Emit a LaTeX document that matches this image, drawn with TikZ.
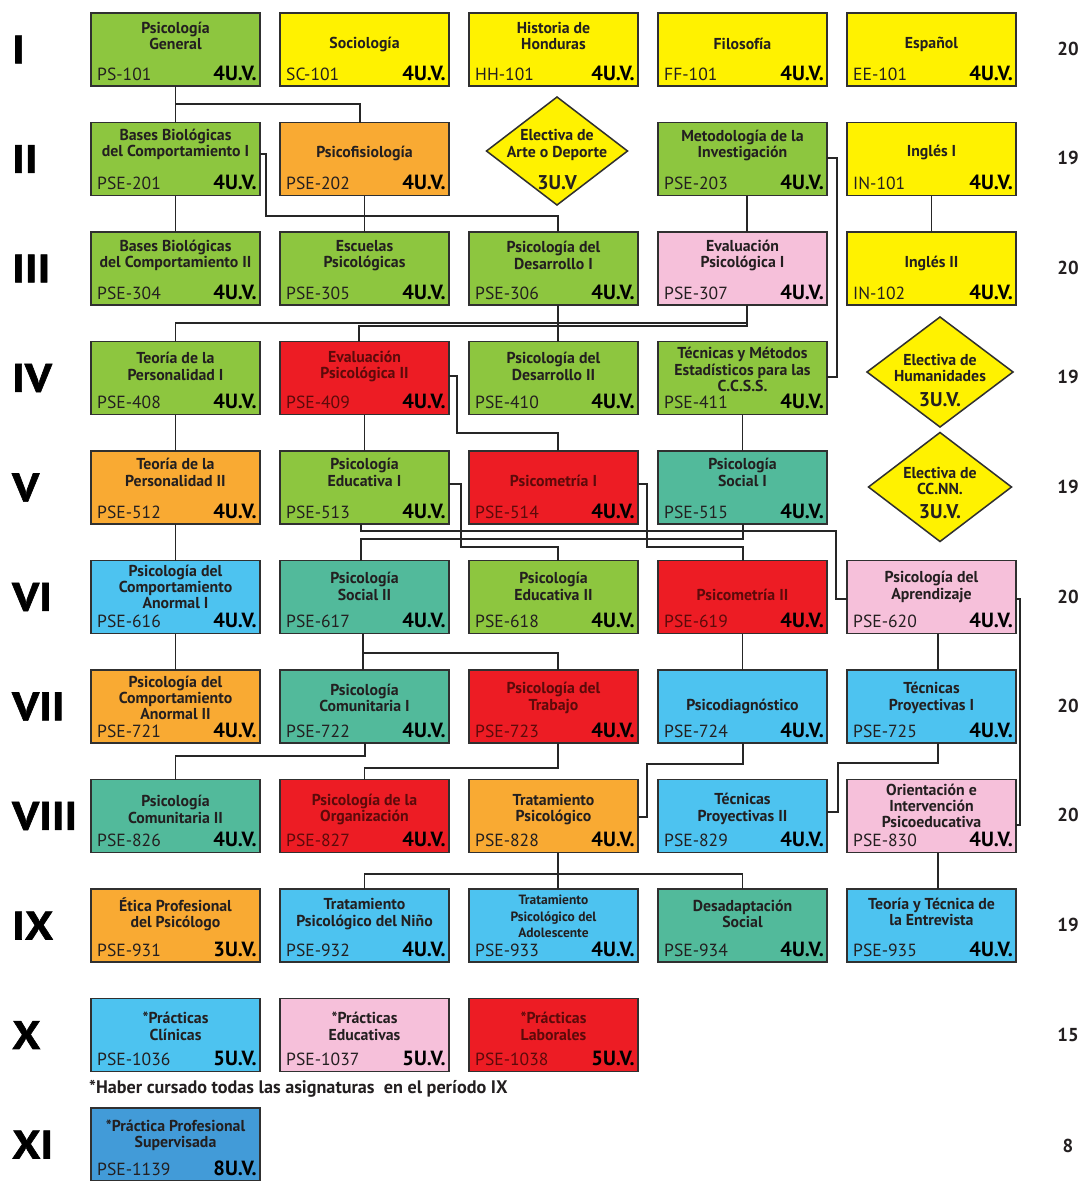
\documentclass[tikz,border=0pt]{standalone}
\usepackage{fontspec}
\setmainfont{PT Sans}
\newfontfamily\romfont{PT Sans Bold}[FakeStretch=1.12,FakeBold=1.5]
\usetikzlibrary{shapes.geometric}
\definecolor{cgreen}{HTML}{8DC63F}
\definecolor{cyellow}{HTML}{FFF200}
\definecolor{corange}{HTML}{F9AA33}
\definecolor{cred}{HTML}{ED1C24}
\definecolor{cpink}{HTML}{F6C0DA}
\definecolor{cblue}{HTML}{4DC3F0}
\definecolor{cteal}{HTML}{52BA9B}
\definecolor{cdblue}{HTML}{429BD8}
\definecolor{cborder}{HTML}{303030}
\definecolor{cline}{HTML}{262626}
\definecolor{ctext}{HTML}{231F20}
\definecolor{credtext}{HTML}{5C0A0A}
\tikzset{
  box/.style={draw=cborder, line width=1.3pt, minimum width=169*0.3mm, minimum height=73*0.3mm, inner sep=0pt, outer sep=0pt},
  ttl/.style={font=\bfseries\fontsize{13.5}{14}\selectfont, align=center, inner sep=0pt},
  codetxt/.style={font=\fontsize{15}{16}\selectfont, inner sep=0pt},
  uvtxt/.style={font=\bfseries\fontsize{17.5}{18}\selectfont, inner sep=0pt, text=black},
  conn/.style={draw=cline, line width=1.4pt},
  thinconn/.style={draw=cline, line width=0.8pt},
  dia/.style={diamond, draw=cborder, line width=1.3pt, fill=cyellow, inner sep=0pt, outer sep=0pt},
  diatxt/.style={font=\bfseries\fontsize{13.5}{14.2}\selectfont, align=center, inner sep=0pt, text=ctext},
  diauv/.style={font=\bfseries\fontsize{17}{18}\selectfont, inner sep=0pt, text=ctext},
  roman/.style={font=\romfont\fontsize{34}{34}\selectfont, anchor=west, inner sep=0pt, text=black},
  cred/.style={font=\bfseries\fontsize{16}{16}\selectfont, inner sep=0pt, text=ctext},
}
% #1 name, #2 left, #3 top, #4 fill, #5 text colour, #6 title, #7 code, #8 uv, #9 title offset
\newcommand\curso[9]{%
  \node[box, fill=#4] (#1) at (#2+84.5,#3+36.5) {};
  \node[ttl, text=#5] (#1t) at (#2+84.5,#3+#9) {#6};
  \node[codetxt, text=#5, anchor=base west] (#1c) at (#2+6,#3+67) {#7};
  \node[uvtxt, anchor=base east] (#1u) at (#2+166,#3+67) {#8};
}
\begin{document}
\begin{tikzpicture}[x=0.3mm,y=-0.3mm]
\path[use as bounding box, fill=white] (0,0) rectangle (1082,1181);

% Row I
\curso{n101}{91}{13}{cgreen}{ctext}{Psicología\\General}{PS-101}{4U.V.}{23}
\curso{nSC}{280}{13}{cyellow}{ctext}{Sociología}{SC-101}{4U.V.}{31}
\curso{nHH}{469}{13}{cyellow}{ctext}{Historia de\\Honduras}{HH-101}{4U.V.}{23}
\curso{nFF}{658}{13}{cyellow}{ctext}{Filosofía}{FF-101}{4U.V.}{31}
\curso{nEE}{847}{13}{cyellow}{ctext}{Español}{EE-101}{4U.V.}{31}
% Row II
\curso{n201}{91}{122.5}{cgreen}{ctext}{Bases Biológicas\\del Comportamiento I}{PSE-201}{4U.V.}{22}
\curso{n202}{280}{122.5}{corange}{ctext}{Psicofisiología}{PSE-202}{4U.V.}{30.5}
\curso{n203}{658}{122.5}{cgreen}{ctext}{Metodología de la\\Investigación}{PSE-203}{4U.V.}{23}
\curso{nIN1}{847}{122.5}{cyellow}{ctext}{Inglés I}{IN-101}{4U.V.}{30}
\node[dia, minimum width=141*0.3mm, minimum height=108*0.3mm] (dArte) at (557,151) {};
\node[diatxt] (dArtet) at (557,145) {Electiva de\\Arte o Deporte};
\node[diauv] (dArteu) at (557,183) {3U.V};
% Row III
\curso{n304}{91}{232}{cgreen}{ctext}{Bases Biológicas\\del Comportamiento II}{PSE-304}{4U.V.}{23.5}
\curso{n305}{280}{232}{cgreen}{ctext}{Escuelas\\Psicológicas}{PSE-305}{4U.V.}{23.5}
\curso{n306}{469}{232}{cgreen}{ctext}{Psicología del\\Desarrollo I}{PSE-306}{4U.V.}{23.5}
\curso{n307}{658}{232}{cpink}{ctext}{Evaluación\\Psicológica I}{PSE-307}{4U.V.}{23.5}
\curso{nIN2}{847}{232}{cyellow}{ctext}{Inglés II}{IN-102}{4U.V.}{31}
% Row IV
\curso{n408}{91}{341.5}{cgreen}{ctext}{Teoría de la\\Personalidad I}{PSE-408}{4U.V.}{25}
\curso{n409}{280}{341.5}{cred}{credtext}{Evaluación\\Psicológica II}{PSE-409}{4U.V.}{25}
\curso{n410}{469}{341.5}{cgreen}{ctext}{Psicología del\\Desarrollo II}{PSE-410}{4U.V.}{25}
\curso{n411}{658}{341.5}{cgreen}{ctext}{Técnicas y Métodos\\Estadísticos para las\\C.C.S.S.}{PSE-411}{4U.V.}{28}
\node[dia, minimum width=146*0.3mm, minimum height=110*0.3mm] (dHum) at (940,372) {};
\node[diatxt] (dHumt) at (940,368) {Electiva de\\Humanidades};
\node[diauv] (dHumu) at (940,400) {3U.V.};
% Row V
\curso{n512}{91}{451}{corange}{ctext}{Teoría de la\\Personalidad II}{PSE-512}{4U.V.}{21.5}
\curso{n513}{280}{451}{cgreen}{ctext}{Psicología\\Educativa I}{PSE-513}{4U.V.}{21.5}
\curso{n514}{469}{451}{cred}{credtext}{Psicometría I}{PSE-514}{4U.V.}{30}
\curso{n515}{658}{451}{cteal}{ctext}{Psicología\\Social I}{PSE-515}{4U.V.}{21.5}
\node[dia, minimum width=143*0.3mm, minimum height=109*0.3mm] (dCC) at (940,487) {};
\node[diatxt] (dCCt) at (940,481) {Electiva de\\CC.NN.};
\node[diauv] (dCCu) at (940,512) {3U.V.};
% Row VI
\curso{n616}{91}{560.5}{cblue}{ctext}{Psicología del\\Comportamiento\\Anormal I}{PSE-616}{4U.V.}{26.5}
\curso{n617}{280}{560.5}{cteal}{ctext}{Psicología\\Social II}{PSE-617}{4U.V.}{26}
\curso{n618}{469}{560.5}{cgreen}{ctext}{Psicología\\Educativa II}{PSE-618}{4U.V.}{26}
\curso{n619}{658}{560.5}{cred}{credtext}{Psicometría II}{PSE-619}{4U.V.}{34.5}
\curso{n620}{847}{560.5}{cpink}{ctext}{Psicología del\\Aprendizaje}{PSE-620}{4U.V.}{26.5}
% Row VII
\curso{n721}{91}{670}{corange}{ctext}{Psicología del\\Comportamiento\\Anormal II}{PSE-721}{4U.V.}{28}
\curso{n722}{280}{670}{cteal}{ctext}{Psicología\\Comunitaria I}{PSE-722}{4U.V.}{28}
\curso{n723}{469}{670}{cred}{credtext}{Psicología del\\Trabajo}{PSE-723}{4U.V.}{28}
\curso{n724}{658}{670}{cblue}{ctext}{Psicodiagnóstico}{PSE-724}{4U.V.}{36}
\curso{n725}{847}{670}{cblue}{ctext}{Técnicas\\Proyectivas I}{PSE-725}{4U.V.}{28}
% Row VIII
\curso{n826}{91}{779.5}{cteal}{ctext}{Psicología\\Comunitaria II}{PSE-826}{4U.V.}{30}
\curso{n827}{280}{779.5}{cred}{credtext}{Psicología de la\\Organización}{PSE-827}{4U.V.}{30}
\curso{n828}{469}{779.5}{corange}{ctext}{Tratamiento\\Psicológico}{PSE-828}{4U.V.}{30}
\curso{n829}{658}{779.5}{cblue}{ctext}{Técnicas\\Proyectivas II}{PSE-829}{4U.V.}{29.5}
\curso{n830}{847}{779.5}{cpink}{ctext}{Orientación e\\Intervención\\Psicoeducativa}{PSE-830}{4U.V.}{26.5}
% Row IX
\curso{n931}{91}{889}{corange}{ctext}{Ética Profesional\\del Psicólogo}{PSE-931}{3U.V.}{25}
\curso{n932}{280}{889}{cblue}{ctext}{Tratamiento\\Psicológico del Niño}{PSE-932}{4U.V.}{25}
\curso{n933}{469}{889}{cblue}{ctext}{\fontsize{11.5}{12}\selectfont Tratamiento\\\fontsize{11.5}{12}\selectfont Psicológico del\\\fontsize{11.5}{12}\selectfont Adolescente}{PSE-933}{4U.V.}{27.5}
\curso{n934}{658}{889}{cteal}{ctext}{Desadaptación\\Social}{PSE-934}{4U.V.}{25}
\curso{n935}{847}{889}{cblue}{ctext}{Teoría y Técnica de\\la Entrevista}{PSE-935}{4U.V.}{23}
% Row X
\curso{n1036}{91}{998.5}{cblue}{ctext}{*Prácticas\\Clínicas}{PSE-1036}{5U.V.}{28}
\curso{n1037}{280}{998.5}{cpink}{ctext}{*Prácticas\\Educativas}{PSE-1037}{5U.V.}{28}
\curso{n1038}{469}{998.5}{cred}{credtext}{*Prácticas\\Laborales}{PSE-1038}{5U.V.}{28}
\node[font=\bfseries\fontsize{15.5}{16}\selectfont, anchor=base west, inner sep=0pt, text=ctext] (nota) at (89,1093) {*Haber cursado todas las asignaturas\ \ en el período IX};
% Row XI
\curso{n1139}{91}{1108}{cdblue}{ctext}{*Práctica Profesional\\Supervisada}{PSE-1139}{8U.V.}{27}

% Roman numerals
\node[roman] (r1) at (12,49.5) {I};
\node[roman] (r2) at (12,159) {II};
\node[roman] (r3) at (12,268.5) {III};
\node[roman] (r4) at (12,378) {IV};
\node[roman] (r5) at (12,487.5) {V};
\node[roman] (r6) at (12,597) {VI};
\node[roman] (r7) at (12,706.5) {VII};
\node[roman] (r8) at (12,816) {VIII};
\node[roman] (r9) at (12,925.5) {IX};
\node[roman] (r10) at (12,1035) {X};
\node[roman] (r11) at (12,1144.5) {XI};

% Credits
\node[cred] (u1) at (1068,49) {20};
\node[cred] (u2) at (1068,158) {19};
\node[cred] (u3) at (1068,268) {20};
\node[cred] (u4) at (1068,377) {19};
\node[cred] (u5) at (1068,487) {19};
\node[cred] (u6) at (1068,597) {20};
\node[cred] (u7) at (1068,706) {20};
\node[cred] (u8) at (1068,815) {20};
\node[cred] (u9) at (1068,925) {19};
\node[cred] (u10) at (1068,1035) {15};
\node[cred] (u11) at (1068,1146) {8};

% Connectors
\coordinate (k1) at (360,104);
\draw[conn] (n101.south) -- (n201.north);
\draw[conn] (k1 -| n101.south) -- (k1) -- (k1 |- n202.north);
\draw[conn] (n201.south) -- (n304.north);
\coordinate (k3a) at (266,154); \coordinate (k3b) at (558,216);
\draw[conn] (k3a -| n201.east) -- (k3a) |- (k3b) -- (k3b |- n306.north);
\draw[thinconn] (n202.south) -- (n305.north);
\coordinate (k5a) at (837,158); \coordinate (k5b) at (837,377);
\draw[conn] (k5a -| n203.east) -- (k5a) -- (k5b) -- (k5b -| n411.east);
\coordinate (x747) at (747,0);
\draw[conn] (x747 |- n203.south) -- (x747 |- n307.north);
\draw[conn] (nIN1.south) -- (nIN2.north);
\coordinate (k8) at (747,323);
\draw[conn] (x747 |- n307.south) -- (k8) -| (n408.north);
\coordinate (k9a) at (747,326); \coordinate (k9b) at (359,326);
\draw[conn] (x747 |- n307.south) -- (k9a) -- (k9b) -- (k9b |- n409.north);
\coordinate (x558) at (558,0);
\draw[conn] (x558 |- n306.south) -- (x558 |- n410.north);
\draw[conn] (n408.south) -- (n512.north);
\draw[conn] (n409.south) -- (n513.north);
\coordinate (k13a) at (457,376); \coordinate (k13b) at (558,433);
\draw[conn] (k13a -| n409.east) -- (k13a) |- (k13b) -- (k13b |- n514.north);
\draw[thinconn] (n411.south) -- (n515.north);
\draw[conn] (n512.south) -- (n616.north);
\coordinate (k16a) at (461,484); \coordinate (k16b) at (558,547);
\draw[conn] (k16a -| n513.east) -- (k16a) |- (k16b) -- (k16b |- n618.north);
\coordinate (k17a) at (647,484); \coordinate (k17b) at (743,547);
\draw[conn] (k17a -| n514.east) -- (k17a) |- (k17b) -- (k17b |- n619.north);
\coordinate (k18a) at (361,531); \coordinate (k18b) at (836,599);
\draw[conn] (k18a |- n513.south) -- (k18a) -| (k18b) -- (k18b -| n620.west);
\coordinate (k19a) at (743,539); \coordinate (k19b) at (361,539);
\draw[conn] (k19a |- n515.south) -- (k19a) -- (k19b) -- (k19b |- n617.north);
\draw[conn] (n616.south) -- (n721.north);
\coordinate (k21a) at (363,653); \coordinate (k21b) at (558,653);
\draw[conn] (k21a |- n617.south) -- (k21a |- n722.north);
\draw[conn] (k21a) -- (k21b) -- (k21b |- n723.north);
\draw[thinconn] (n619.south) -- (n724.north);
\coordinate (x938) at (938,0);
\draw[conn] (x938 |- n620.south) -- (x938 |- n725.north);
\coordinate (k24a) at (1020,599); \coordinate (k24b) at (1020,825);
\draw[conn] (k24a -| n620.east) -- (k24a) -- (k24b) -- (k24b -| n830.east);
\coordinate (k25) at (365,756);
\draw[conn] (k25 |- n722.south) -- (k25) -| (n826.north);
\coordinate (k26) at (558,768);
\draw[conn] (k26 |- n723.south) -- (k26) -| (n827.north);
\coordinate (k27a) at (743,764); \coordinate (k27b) at (647,817);
\draw[conn] (k27a |- n724.south) -- (k27a) -| (k27b) -- (k27b -| n828.east);
\coordinate (k28a) at (938,763); \coordinate (k28b) at (838,812);
\draw[conn] (k28a |- n725.south) -- (k28a) -| (k28b) -- (k28b -| n829.east);
\coordinate (k29) at (558,874);
\draw[conn] (k29 |- n828.south) -- (k29 |- n933.north);
\draw[conn] (n932.north) |- (k29) -| (n934.north);
\draw[conn] (x938 |- n830.south) -- (x938 |- n935.north);
\end{tikzpicture}
\end{document}
